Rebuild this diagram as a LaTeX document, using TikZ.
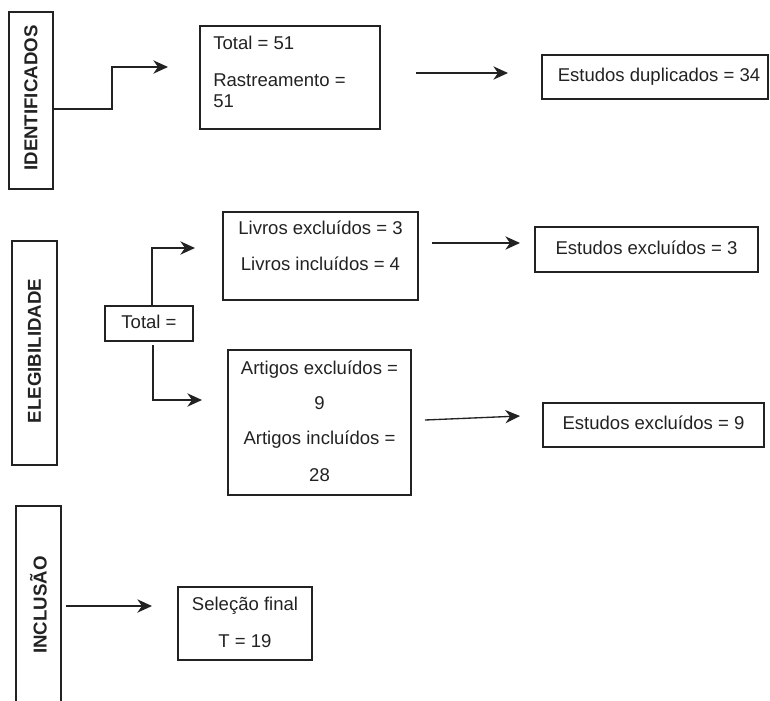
\documentclass[tikz,border=0pt]{standalone}
\usepackage{fontspec}
\setmainfont{Liberation Sans}
\usetikzlibrary{arrows.meta,fit}
\definecolor{ink}{HTML}{222222}
\begin{document}
\begin{tikzpicture}[x=0.75pt,y=-0.75pt,
  boxst/.style={draw=ink, line width=0.9pt, inner sep=0pt, fill=none},
  txt/.style={inner sep=0pt, text=ink, font=\fontsize{13.9}{16}\selectfont, text height=0.716em, text depth=0pt},
  vlab/.style={inner sep=0pt, text=ink, rotate=90, font=\fontsize{14}{16}\selectfont\bfseries},
  arr/.style={draw=ink, line width=1pt, -{Stealth[length=11pt,width=10pt,inset=3.5pt]}},
  conn/.style={draw=ink, line width=1pt}]
\useasboundingbox (0,0) rectangle (770,700);
\clip (0,0) rectangle (770,700);

% ---- IDENTIFICADOS ----
\node[boxst, fit={(9,12) (53,189)}] (identbox) {};
\node[vlab] (identlab) at (31,98) {IDENTIFICADOS};
\node[boxst, fit={(200,26) (380,129)}] (totbox) {};
\node[txt, anchor=west] (tot1) at (213,45) {Total = 51};
\node[txt, anchor=west] (tot2) at (213,82) {Rastreamento =};
\node[txt, anchor=west] (tot3) at (213,103) {51};
\coordinate (ib) at (112,109);
\coordinate (it) at (168,67);
\draw[arr] (identbox.east |- ib) -- (ib) |- (it);
\coordinate (da) at (416,73);
\coordinate (db) at (508,73);
\draw[arr] (da) -- (db);
\node[boxst, fit={(542,55) (768,99)}] (dupbox) {};
\node[txt] (duptxt) at (659,77) {Estudos duplicados = 34};

% ---- ELEGIBILIDADE ----
\node[boxst, fit={(12,241) (57,465)}] (elegbox) {};
\node[vlab] (eleglab) at (34.5,351) {ELEGIBILIDADE};
\node[boxst, fit={(105,306) (193,341)}] (total2) {};
\node[txt] (total2txt) at (149,323.5) {Total =};
\coordinate (ub) at (152,248);
\coordinate (ut) at (195,248);
\draw[arr] (ub |- total2.north) -- (ub) -- (ut);
\coordinate (ls) at (153,345);
\coordinate (lt) at (202,400);
\draw[arr] (ls) |- (lt);

\node[boxst, fit={(223,212) (418,300)}] (livbox) {};
\node[txt] (liv1) at (320.5,230) {Livros excluídos = 3};
\node[txt] (liv2) at (320.5,266) {Livros incluídos = 4};
\coordinate (la) at (432,243);
\coordinate (lb) at (520,243);
\draw[arr] (la) -- (lb);
\node[boxst, fit={(535,227) (758,272)}] (ex3) {};
\node[txt] (ex3txt) at (646.5,249.5) {Estudos excluídos = 3};

\node[boxst, fit={(228,350) (411,495)}] (artbox) {};
\node[txt] (art1) at (319.5,370) {Artigos excluídos =};
\node[txt] (art2) at (319.5,405) {9};
\node[txt] (art3) at (319.5,440) {Artigos incluídos =};
\node[txt] (art4) at (319.5,477) {28};
\coordinate (aa) at (425,420);
\coordinate (ab) at (520,416);
\draw[arr] (aa) -- (ab);
\node[boxst, fit={(543,403) (764,447)}] (ex9) {};
\node[txt] (ex9txt) at (653.5,425) {Estudos excluídos = 9};

% ---- INCLUSAO ----
\node[boxst, fit={(16,506) (61,712)}] (inclbox) {};
\node[vlab] (incllab) at (38.5,605) {INCLUSÃO};
\coordinate (ia) at (66,606);
\coordinate (itip) at (152,606);
\draw[arr] (ia) -- (itip);
\node[boxst, fit={(178,587) (312,660)}] (selbox) {};
\node[txt] (sel1) at (245,606) {Seleção final};
\node[txt] (sel2) at (245,643) {T = 19};
\end{tikzpicture}
\end{document}
